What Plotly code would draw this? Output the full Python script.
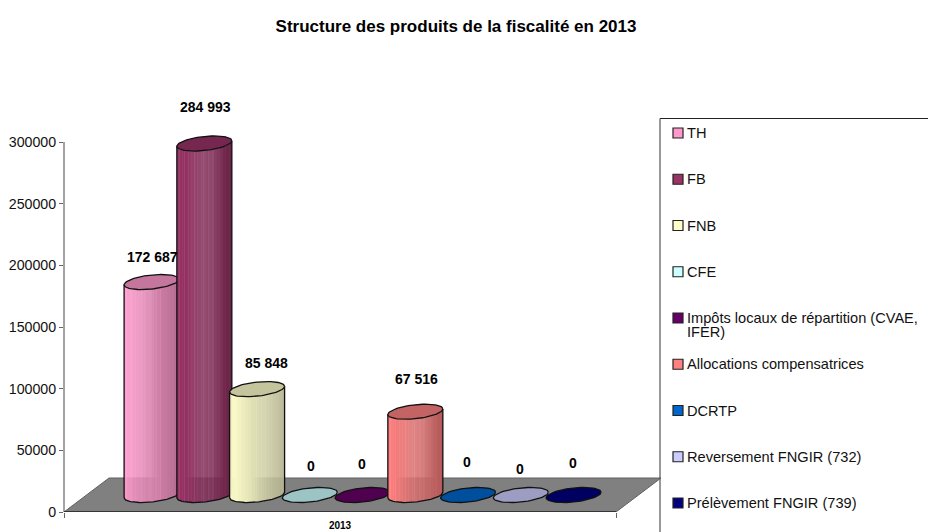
import numpy as np
import plotly.graph_objects as go

# ---- data ----
categories = ["TH", "FB", "FNB", "CFE", "Impôts locaux de répartition (CVAE,\nIFER)",
              "Allocations compensatrices", "DCRTP", "Reversement FNGIR (732)", "Prélèvement FNGIR (739)"]
values = [172687, 284993, 85848, 0, 0, 67516, 0, 0, 0]
colors = ["#FF99CC", "#993366", "#FFFFCC", "#CCFFFF", "#660066", "#FF8080", "#0066CC", "#CCCCFF", "#000080"]
y_ticks = [0, 50000, 100000, 150000, 200000, 250000, 300000]
x_label = "2013"
title = "Structure des produits de la fiscalité en 2013"

# ---- layout constants (pixels of the 928x532 page) ----
W, H = 928, 532
L, R_M, T, B = 64, 0, 100, 20
PW, PH = W - L - R_M, H - T - B
PX_PER_UNIT_X = 52.75
X0_PX = 151.6
PX_PER_VAL = 370.0 / 300000.0
FONT = "Liberation Sans"

def ux(px):  # px distance -> x units
    return px / PX_PER_UNIT_X
def uy(px):  # px distance -> value units
    return px / PX_PER_VAL
def paper_x(px):
    return (px - L) / PW
def paper_y(py):
    return (H - B - py) / PH

x_lo = ux(L - X0_PX)
x_hi = ux(W - X0_PX)
y_hi = uy(PH)

radius = ux(27.5)
minor = uy(7.0)
tilt = uy(2.8)
floor_depth = uy(34)
floor_shift = ux(45)
floor_right = ux(616 - X0_PX)
base_level = uy(17)

# label nudges: (x px, y px above the top-face centre)
label_nudge = [(1, 25), (1, 37), (9, 26), (1, 29), (-1, 31), (1, 33), (-1, 33), (-1, 26), (-1, 32)]
# vertical sheen pattern across a cylinder body
sheen = [0, 0, .08, 0, 0, .04, 0, .08, 0, 0, 0, .06, 0, 0, .04, 0, 0, .10, 0, 0, .05, 0, 0, 0, .08, 0, .12, 0, .04, 0,
         0, .12, 0, .06, 0, .12, 0, 0, .04, 0, 0, .05, 0, 0, .03, 0, 0, .05, 0, 0, 0, .03, 0, 0]

def rgb(hexc):
    return np.array([int(hexc[i:i + 2], 16) for i in (1, 3, 5)], dtype=float)
def css(c):
    c = np.clip(c, 0, 255).round().astype(int)
    return f"rgb({c[0]},{c[1]},{c[2]})"

fig = go.Figure()
skip = dict(hoverinfo="skip", showlegend=False, mode="lines")

# floor
fig.add_trace(go.Scatter(x=[x_lo, floor_right, floor_right + floor_shift, x_lo + floor_shift, x_lo],
                         y=[0, 0, floor_depth, floor_depth, 0],
                         fill="toself", fillcolor="#808080",
                         line=dict(color="#606060", width=1), **skip))

t = np.linspace(0, 2 * np.pi, 73)
n_slices = len(sheen)
for i, (val, col) in enumerate(zip(values, colors)):
    base = rgb(col)
    y_b = base_level
    y_t = base_level + val
    ex = i + radius * np.cos(t)
    ey_top = y_t + minor * np.sin(t) + tilt * np.cos(t)
    if val > 0:
        edges = np.linspace(-1, 1, n_slices + 1)
        for s in range(n_slices):
            u0, u1 = edges[s], edges[s + 1]
            us = np.linspace(u0, min(1, u1 + 0.01), 3)
            front = -minor * np.sqrt(np.clip(1 - us ** 2, 0, 1)) + tilt * us
            xs = i + radius * us
            grad = 1.0 - 0.30 * (s / (n_slices - 1))
            shade = base * grad + (255 - base * grad) * sheen[s]
            fig.add_trace(go.Scatter(
                x=np.concatenate([xs, xs[::-1]]),
                y=np.concatenate([y_b + front, (y_t + front)[::-1]]),
                fill="toself", fillcolor=css(shade), line=dict(width=0), **skip))
        us = np.linspace(-1, 1, 41)
        front = -minor * np.sqrt(np.clip(1 - us ** 2, 0, 1)) + tilt * us
        fig.add_trace(go.Scatter(
            x=np.concatenate([[i - radius], i + radius * us, [i + radius]]),
            y=np.concatenate([[y_t - tilt], y_b + front, [y_t + tilt]]),
            line=dict(color="#111111", width=1.3), **skip))
    fig.add_trace(go.Scatter(x=ex, y=ey_top, fill="toself", fillcolor=css(base * 0.77),
                             line=dict(color="#111111", width=1.3), **skip))

# ---- axis lines and annotations ----
shapes = [
    dict(type="line", xref="paper", yref="y", x0=0, x1=0, y0=y_ticks[0], y1=y_ticks[-1],
         line=dict(color="#666666", width=1.2)),
    dict(type="line", xref="x", yref="y", x0=x_lo, x1=floor_right, y0=0, y1=0,
         line=dict(color="#222222", width=1.5)),
    # legend frame
    dict(type="line", xref="paper", yref="paper", x0=paper_x(660), x1=paper_x(928), y0=paper_y(118.5), y1=paper_y(118.5),
         line=dict(color="#222222", width=1)),
    dict(type="line", xref="paper", yref="paper", x0=paper_x(660), x1=paper_x(660), y0=paper_y(118.5), y1=paper_y(532),
         line=dict(color="#555555", width=1.2)),
]
annotations = []
for i, (val, (dx, dy)) in enumerate(zip(values, label_nudge)):
    annotations.append(dict(x=i, y=base_level + val, xref="x", yref="y", xshift=dx, yshift=dy,
                            text=f"{val:,}".replace(",", " "), showarrow=False, xanchor="center", yanchor="middle",
                            font=dict(family=FONT, size=14, color="#000000", weight="bold")))

# hand-spaced legend (entries sit on a fixed 46.25 px pitch even when an entry wraps)
for i, (name, col) in enumerate(zip(categories, colors)):
    cy = 133 + 46.25 * i
    shapes.append(dict(type="rect", xref="paper", yref="paper",
                       x0=paper_x(673), x1=paper_x(683), y0=paper_y(cy - 5), y1=paper_y(cy + 5),
                       fillcolor=col, line=dict(color="#222222", width=1.2)))
    for k, part in enumerate(name.split("\n")):
        annotations.append(dict(x=paper_x(685), y=paper_y(cy + 14 * k), xref="paper", yref="paper",
                                text=part, showarrow=False, xanchor="left", yanchor="middle",
                                font=dict(family=FONT, size=14.6, color="#111111")))

fig.update_layout(
    width=W, height=H, autosize=False,
    margin=dict(l=L, r=R_M, t=T, b=B, pad=0),
    paper_bgcolor="white", plot_bgcolor="white",
    showlegend=False,
    title=dict(text=f"<b>{title}</b>", x=456 / W, xanchor="center", y=1 - 26 / H, yanchor="middle",
               font=dict(family=FONT, size=17, color="#000000")),
    xaxis=dict(range=[x_lo, x_hi], showgrid=False, zeroline=False, showline=False,
               tickmode="array", tickvals=[ux(340 - X0_PX)], ticktext=[x_label], ticks="", ticklen=0,
               ticklabelstandoff=6,
               tickfont=dict(family=FONT, size=10, color="#000000", weight="bold"),
               minor=dict(tickmode="array", tickvals=[x_lo, floor_right], ticks="outside", ticklen=5,
                          tickcolor="#666666", tickwidth=1.2, showgrid=False),
               fixedrange=True),
    yaxis=dict(range=[0, y_hi], showgrid=False, zeroline=False, showline=False,
               tickmode="array", tickvals=y_ticks, ticktext=[str(v) for v in y_ticks],
               ticks="outside", ticklen=4, tickcolor="#666666", tickwidth=1.2,
               tickfont=dict(family=FONT, size=14.2, color="#111111"), fixedrange=True),
    shapes=shapes, annotations=annotations,
)
fig.write_html("out.html", config=dict(displayModeBar=False),
               post_script="document.body.style.margin='0';document.body.style.overflow='hidden';")
